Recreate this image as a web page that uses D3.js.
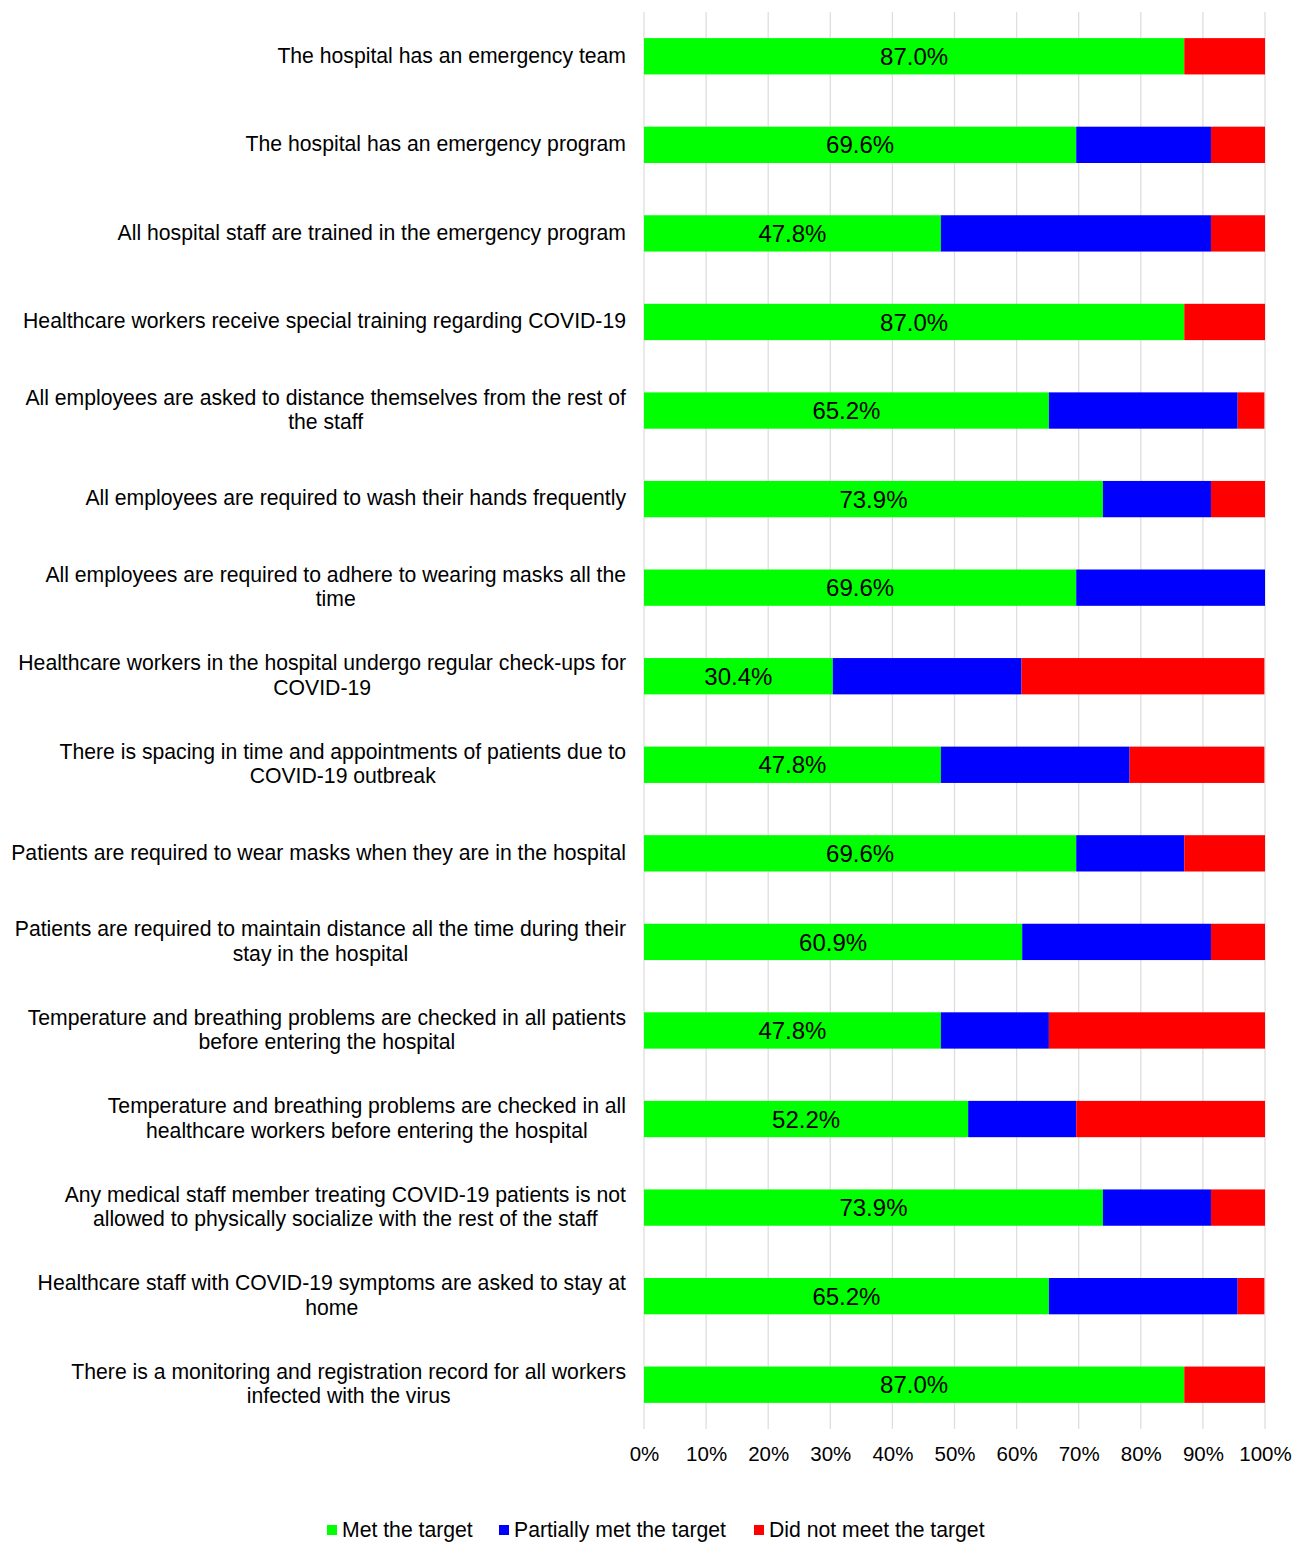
<!DOCTYPE html>
<html>
<head>
<meta charset="utf-8">
<script src="https://cdn.jsdelivr.net/npm/d3@7"></script>
<style>
  body { margin: 0; background: #fff; }
  text { font-family: "Liberation Sans", Arial, sans-serif; fill: #000; }
</style>
</head>
<body>
<svg id="chart"></svg>
<script>
// Chart data (shares of 23 hospitals)
const categories = [
  ['The hospital has an emergency team'],
  ['The hospital has an emergency program'],
  ['All hospital staff are trained in the emergency program'],
  ['Healthcare workers receive special training regarding COVID-19'],
  ['All employees are asked to distance themselves from the rest of', 'the staff'],
  ['All employees are required to wash their hands frequently'],
  ['All employees are required to adhere to wearing masks all the', 'time'],
  ['Healthcare workers in the hospital undergo regular check-ups for', 'COVID-19'],
  ['There is spacing in time and appointments of patients due to', 'COVID-19 outbreak'],
  ['Patients are required to wear masks when they are in the hospital'],
  ['Patients are required to maintain distance all the time during their', 'stay in the hospital'],
  ['Temperature and breathing problems are checked in all patients', 'before entering the hospital'],
  ['Temperature and breathing problems are checked in all', 'healthcare workers before entering the hospital'],
  ['Any medical staff member treating COVID-19 patients is not', 'allowed to physically socialize with the rest of the staff'],
  ['Healthcare staff with COVID-19 symptoms are asked to stay at', 'home'],
  ['There is a monitoring and registration record for all workers', 'infected with the virus']
];
const met     = [87.0, 69.6, 47.8, 87.0, 65.2, 73.9, 69.6, 30.4, 47.8, 69.6, 60.9, 47.8, 52.2, 73.9, 65.2, 87.0];
const partial = [0.0, 21.7, 43.5, 0.0, 30.4, 17.4, 30.4, 30.4, 30.4, 17.4, 30.4, 17.4, 17.4, 17.4, 30.4, 0.0];
const notMet  = [13.0, 8.7, 8.7, 13.0, 4.3, 8.7, 0.0, 39.1, 21.7, 13.0, 8.7, 34.8, 30.4, 8.7, 4.3, 13.0];
const seriesNames = ['Met the target', 'Partially met the target', 'Did not meet the target'];
const seriesColors = ['#00ff00', '#0000ff', '#ff0000'];
const tickValues = [0, 10, 20, 30, 40, 50, 60, 70, 80, 90, 100];

const width = 1305, height = 1543;
const plot = { left: 644, right: 1265, top: 12, bottom: 1429 };

const svg = d3.select('#chart').attr('width', width).attr('height', height);

const rows = categories.map((c, i) => ({ i, lines: c, values: [met[i], partial[i], notMet[i]] }));

const x = d3.scaleLinear().domain([0, 100]).range([plot.left, plot.right]);
const y = d3.scaleBand().domain(d3.range(rows.length)).range([plot.top, plot.bottom]).paddingInner(0.59).paddingOuter(0.295);

// gridlines
svg.append('g')
  .selectAll('line')
  .data(tickValues)
  .join('line')
  .attr('x1', d => x(d)).attr('x2', d => x(d))
  .attr('y1', plot.top).attr('y2', plot.bottom)
  .attr('stroke', '#dedede').attr('stroke-width', 1.3);

// stacked bars
const stack = d3.stack().keys([0, 1, 2]).value((d, k) => d.values[k]);
const layers = stack(rows);
svg.append('g')
  .selectAll('g')
  .data(layers)
  .join('g')
  .attr('fill', (d, k) => seriesColors[k])
  .selectAll('rect')
  .data(d => d)
  .join('rect')
  .attr('x', d => x(d[0]))
  .attr('width', d => Math.max(0, x(d[1]) - x(d[0])))
  .attr('y', d => y(d.data.i))
  .attr('height', y.bandwidth());

// value labels on the green segment
svg.append('g')
  .selectAll('text')
  .data(rows)
  .join('text')
  .attr('x', d => x(d.values[0] / 2))
  .attr('y', d => y(d.i) + y.bandwidth() / 2)
  .attr('dy', '0.36em')
  .attr('text-anchor', 'middle')
  .style('font-size', '24px')
  .text(d => d.values[0].toFixed(1) + '%');

// category labels: block right-aligned, lines centred
const labelRight = 626;
const labels = svg.append('g')
  .selectAll('text')
  .data(rows)
  .join('text')
  .style('font-size', '21.2px')
  .attr('text-anchor', 'middle');
labels.each(function(d) {
  const t = d3.select(this);
  const lh = 24.5;
  const cy = y(d.i) + y.bandwidth() / 2;
  const y0 = cy - (d.lines.length - 1) * lh / 2;
  d.lines.forEach((ln, j) => {
    t.append('tspan').attr('y', y0 + j * lh).attr('dy', '0.3em').text(ln);
  });
  let maxW = 0;
  t.selectAll('tspan').each(function() { maxW = Math.max(maxW, this.getComputedTextLength()); });
  t.selectAll('tspan').attr('x', labelRight - maxW / 2);
});

// x axis labels
const axis = d3.axisBottom(x).tickValues(tickValues).tickFormat(d => d + '%').tickSize(0).tickPadding(0);
const ax = svg.append('g').attr('transform', `translate(0, 1446)`).call(axis);
ax.select('.domain').remove();
ax.selectAll('text').style('font-size', '20.5px').style('font-family', '"Liberation Sans", Arial, sans-serif').attr('fill', '#000');

// legend
const legendX = [327, 499, 754];
const lg = svg.append('g')
  .selectAll('g')
  .data(seriesNames)
  .join('g')
  .attr('transform', (d, k) => `translate(${legendX[k]}, 1530)`);
lg.append('rect').attr('x', 0).attr('y', -5).attr('width', 10).attr('height', 10).attr('fill', (d, k) => seriesColors[k]);
lg.append('text').attr('x', 15).attr('dy', '0.35em').style('font-size', '21.2px').text(d => d);
</script>
</body>
</html>
